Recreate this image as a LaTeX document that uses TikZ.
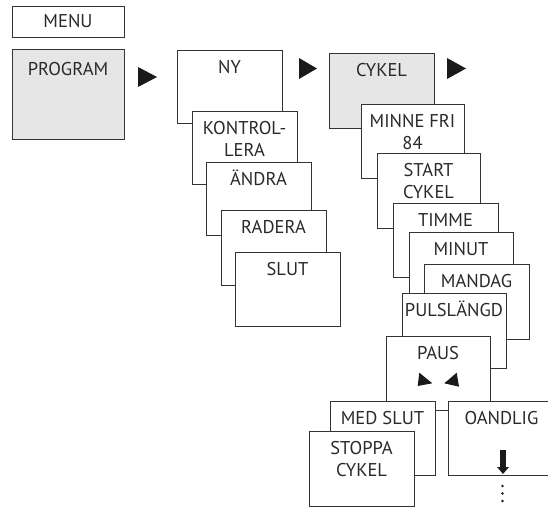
\documentclass[tikz,border=0pt]{standalone}
\usepackage{fontspec}
\setmainfont{PT Sans}
\definecolor{linec}{HTML}{333333}
\definecolor{boxgray}{HTML}{E6E6E6}
\definecolor{arrowc}{HTML}{1A1A1A}
\definecolor{txtc}{HTML}{2A2A2A}
\newcommand\myst{\rule{0pt}{17pt}}
\tikzset{
  box/.style={draw=linec, line width=0.9pt, fill=white, anchor=north west,
    minimum width=105pt, minimum height=74pt, inner sep=0pt, outer sep=0pt},
  graybox/.style={box, fill=boxgray},
  lbl/.style={font=\fontsize{18.5}{22}\selectfont, align=center, anchor=north,
    inner sep=0pt, text=txtc},
  tri/.style={fill=arrowc, draw=none}
}
\begin{document}
\begin{tikzpicture}[x=1pt,y=-1pt]
\useasboundingbox (0,0) rectangle (548,508);
\clip (0,0) rectangle (548,508);
% MENU and PROGRAM
\node[box, minimum width=112pt, minimum height=31pt, font=\fontsize{18.5}{22}\selectfont, text=txtc] (menu) at (12,6) {MENU};
\node[graybox, minimum width=112pt, minimum height=90pt] (prog) at (12,49) {};
\node[lbl] (progT) at ([yshift=-9.5pt]prog.north) {\myst PROGRAM};
\fill[tri] (138,67) -- (157,77) -- (138,87) -- cycle;
% first column
\node[box, minimum height=73pt] (ny) at (177,50) {};
\node[lbl] (nyT) at ([yshift=-6.5pt]ny.north) {\myst NY};
\node[box, minimum height=73pt] (kon) at (192,111) {};
\node[lbl] (konT) at ([yshift=-6.5pt]kon.north) {\myst KONTROL-\\LERA};
\node[box, minimum height=73pt] (and) at (206,162) {};
\node[lbl] (andT) at ([yshift=-6.5pt]and.north) {\myst ÄNDRA};
\node[box, minimum height=75pt] (rad) at (221,210) {};
\node[lbl] (radT) at ([yshift=-6.5pt]rad.north) {\myst RADERA};
\node[box] (slut) at (235,252) {};
\node[lbl] (slutT) at ([yshift=-6.5pt]slut.north) {\myst SLUT};
\fill[tri] (299,58) -- (317,68.5) -- (299,79) -- cycle;
% second column
\node[graybox, minimum height=75pt] (cyk) at (329,53) {};
\node[lbl] (cykT) at ([yshift=-6.5pt]cyk.north) {\myst CYKEL};
\fill[tri] (447,58) -- (466,68.5) -- (447,79) -- cycle;
\node[box, minimum width=103pt] (minne) at (361,104) {};
\node[lbl] (minneT) at ([yshift=-6.5pt]minne.north) {\myst MINNE FRI\\84};
\node[box, minimum width=103pt, minimum height=75pt] (start) at (377,153) {};
\node[lbl] (startT) at ([yshift=-6.5pt]start.north) {\myst START\\CYKEL};
\node[box] (timme) at (393,203) {};
\node[lbl] (timmeT) at ([yshift=-6.5pt]timme.north) {\myst TIMME};
\node[box, minimum width=104pt] (minut) at (409,232) {};
\node[lbl] (minutT) at ([yshift=-6.5pt]minut.north) {\myst MINUT};
\node[box, minimum height=75pt] (mandag) at (424,264) {};
\node[lbl] (mandagT) at ([yshift=-6.5pt]mandag.north) {\myst MANDAG};
\node[box, minimum width=104pt, minimum height=75pt] (puls) at (402,293) {};
\node[lbl] (pulsT) at ([yshift=-6.5pt]puls.north) {\myst PULSLÄNGD};
\node[box, minimum width=104pt] (paus) at (386,336) {};
\node[lbl] (pausT) at ([yshift=-6.5pt]paus.north) {\myst PAUS};
\fill[tri] (419.3,372.7) -- (432.3,383.3) -- (417.7,386) -- cycle;
\fill[tri] (456.7,372.7) -- (444.3,383.3) -- (459,386.7) -- cycle;
% bottom
\node[box] (med) at (330,401) {};
\node[lbl] (medT) at ([yshift=-6.5pt]med.north) {\myst MED SLUT};
\node[box, minimum width=107pt] (oand) at (448,401) {};
\node[lbl] (oandT) at ([yshift=-6.5pt]oand.north) {\myst OANDLIG};
\node[box, minimum height=75pt] (stop) at (309,431) {};
\node[lbl] (stopT) at ([yshift=-6.5pt]stop.north) {\myst STOPPA\\CYKEL};
\fill[tri] (499.5,450) rectangle (506,467.5);
\fill[tri] (497,467) -- (509,467) -- (503,474) -- cycle;
\foreach \yy in {486,493.5,501} \fill[tri] (502.5,\yy) circle (1.4pt);
\end{tikzpicture}
\end{document}
